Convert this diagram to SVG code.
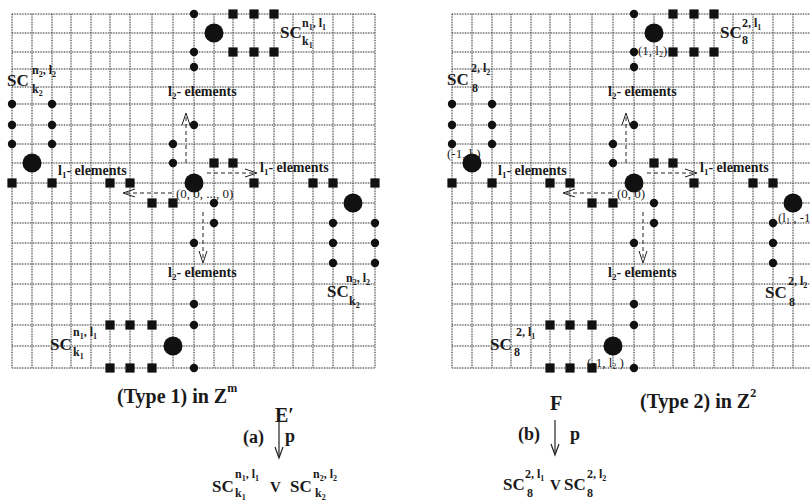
<svg xmlns="http://www.w3.org/2000/svg" xmlns:xlink="http://www.w3.org/1999/xlink" width="810" height="502" viewBox="0 0 810 502">
<defs>
<style>
.gl{fill:none;stroke:#c4c4c4;stroke-width:1}
.gd{fill:none;stroke:#333;stroke-width:1;stroke-dasharray:1 1.6}
.d{fill:#111}
.q{fill:#111}
.t{font-family:"Liberation Serif","Times New Roman",serif;font-weight:bold;fill:#1a1a1a}
.sc{font-size:17px}
.sp{font-size:12px}
.ix{font-size:8px}
.lab{font-size:14px}
.lx{font-size:9px}
.co{font-family:"Liberation Serif","Times New Roman",serif;font-size:13px;fill:#1a1a1a}
.big{font-size:20px}
.cap{font-size:18px}
.da{fill:none;stroke:#222;stroke-width:1;stroke-dasharray:4 3}
.ah{fill:none;stroke:#222;stroke-width:1}
.ar{fill:none;stroke:#222;stroke-width:1.2}
</style>
<path id="gridL" d="M12,14V368M32,14V368M52,14V368M71,14V368M91,14V368M110,14V368M130,14V368M152,14V368M173,14V368M194,14V368M214,14V368M233,14V368M254,14V368M274,14V368M293,14V368M313,14V368M333,14V368M353,14V368M375,14V368M12,14H375M12,33H375M12,52H375M12,69H375M12,87H375M12,104H375M12,125H375M12,144H375M12,163H375M12,183H375M12,203H375M12,223H375M12,243H375M12,264H375M12,284H375M12,304H375M12,325H375M12,346H375M12,368H375"/>
<path id="gridR" d="M452,14V368M472,14V368M492,14V368M511,14V368M531,14V368M550,14V368M570,14V368M592,14V368M613,14V368M634,14V368M654,14V368M673,14V368M694,14V368M714,14V368M733,14V368M753,14V368M773,14V368M793,14V368M452,14H810M452,33H810M452,52H810M452,69H810M452,87H810M452,104H810M452,125H810M452,144H810M452,163H810M452,183H810M452,203H810M452,223H810M452,243H810M452,264H810M452,284H810M452,304H810M452,325H810M452,346H810M452,368H810"/>
<circle id="dt" r="4.2" class="d"/>
<circle id="bg" r="9.5" class="d"/>
<rect id="sq" x="-4.6" y="-4.6" width="9.2" height="9.2" class="q"/>
</defs>
<rect width="810" height="502" fill="#fff"/>

<g id="grids">
<use xlink:href="#gridL" class="gl"/><use xlink:href="#gridL" class="gd"/>
<use xlink:href="#gridR" class="gl"/><use xlink:href="#gridR" class="gd"/>
</g>

<g id="connectors">
<path class="da" d="M186,163V115"/><path class="ah" d="M182,125L186,113L190,125"/>
<path class="da" d="M172,193H125"/><path class="ah" d="M135,189L123,193L135,197"/>
<path class="da" d="M207,173H255"/><path class="ah" d="M245,169L257,173L245,177"/>
<path class="da" d="M203,212V261"/><path class="ah" d="M199,251L203,263L207,251"/>
<path class="da" d="M626,163V115"/><path class="ah" d="M622,125L626,113L630,125"/>
<path class="da" d="M612,193H565"/><path class="ah" d="M575,189L563,193L575,197"/>
<path class="da" d="M647,173H695"/><path class="ah" d="M685,169L697,173L685,177"/>
<path class="da" d="M643,212V261"/><path class="ah" d="M639,251L643,263L647,251"/>
<path class="ar" d="M279,420V457"/><path class="ar" d="M275,447L279,458L283,447"/>
<path class="ar" d="M555,420V454"/><path class="ar" d="M551,444L555,455L559,444"/>
</g>

<!-- LEFT GRID (Type 1) -->
<g id="L-top">
<use xlink:href="#dt" x="194" y="14"/><use xlink:href="#sq" x="233" y="14"/><use xlink:href="#sq" x="254" y="14"/><use xlink:href="#sq" x="274" y="14"/>
<use xlink:href="#bg" x="214" y="33"/>
<use xlink:href="#dt" x="194" y="52"/><use xlink:href="#dt" x="194" y="67"/>
<use xlink:href="#sq" x="233" y="52"/><use xlink:href="#sq" x="254" y="52"/><use xlink:href="#sq" x="274" y="52"/>
<text class="t sc" x="280" y="38">SC</text>
<text class="t sp" x="302" y="27">n<tspan class="ix" dy="3">1</tspan><tspan dy="-3">, l</tspan><tspan class="ix" dy="3">1</tspan></text>
<text class="t sp" x="302" y="45">k<tspan class="ix" dy="3">1</tspan></text>
</g>
<g id="L-left">
<use xlink:href="#dt" x="12" y="104"/><use xlink:href="#dt" x="12" y="125"/><use xlink:href="#dt" x="12" y="144"/>
<use xlink:href="#dt" x="52" y="104"/><use xlink:href="#dt" x="52" y="125"/><use xlink:href="#dt" x="52" y="144"/>
<use xlink:href="#bg" x="32" y="163"/>
<use xlink:href="#sq" x="12" y="183"/><use xlink:href="#sq" x="52" y="183"/>
<text class="t sc" x="7" y="86">SC</text>
<text class="t sp" x="32" y="74">n<tspan class="ix" dy="3">2</tspan><tspan dy="-3">, l</tspan><tspan class="ix" dy="3">2</tspan></text>
<text class="t sp" x="32" y="93">k<tspan class="ix" dy="3">2</tspan></text>
</g>
<g id="L-center">
<use xlink:href="#dt" x="194" y="125"/><use xlink:href="#dt" x="173" y="144"/><use xlink:href="#dt" x="173" y="163"/>
<use xlink:href="#bg" x="194" y="183"/>
<use xlink:href="#sq" x="110" y="183"/><use xlink:href="#sq" x="130" y="183"/>
<use xlink:href="#sq" x="152" y="203"/><use xlink:href="#sq" x="173" y="203"/>
<use xlink:href="#sq" x="214" y="163"/><use xlink:href="#sq" x="233" y="163"/>
<use xlink:href="#sq" x="254" y="183"/>
<use xlink:href="#dt" x="214" y="203"/><use xlink:href="#dt" x="214" y="223"/><use xlink:href="#dt" x="194" y="243"/>
<use xlink:href="#dt" x="194" y="304"/><use xlink:href="#dt" x="194" y="325"/><use xlink:href="#dt" x="194" y="368"/>
<text class="co" x="176" y="198">(0, 0, ..., 0)</text>
<text class="t lab" x="168" y="96">l<tspan class="lx" dy="3">2</tspan><tspan dy="-3">- elements</tspan></text>
<text class="t lab" x="58" y="175">l<tspan class="lx" dy="3">1</tspan><tspan dy="-3">- elements</tspan></text>
<text class="t lab" x="260" y="172">l<tspan class="lx" dy="3">1</tspan><tspan dy="-3">- elements</tspan></text>
<text class="t lab" x="168" y="277">l<tspan class="lx" dy="3">2</tspan><tspan dy="-3">- elements</tspan></text>
</g>
<g id="L-right">
<use xlink:href="#sq" x="313" y="183"/><use xlink:href="#sq" x="333" y="183"/><use xlink:href="#sq" x="375" y="183"/>
<use xlink:href="#bg" x="353" y="203"/>
<use xlink:href="#dt" x="333" y="223"/><use xlink:href="#dt" x="333" y="243"/><use xlink:href="#dt" x="333" y="263"/>
<use xlink:href="#dt" x="375" y="223"/><use xlink:href="#dt" x="375" y="243"/><use xlink:href="#dt" x="375" y="263"/>
<text class="t sc" x="327" y="297">SC</text>
<text class="t sp" x="346" y="282">n<tspan class="ix" dy="3">2</tspan><tspan dy="-3">, l</tspan><tspan class="ix" dy="3">2</tspan></text>
<text class="t sp" x="349" y="305">k<tspan class="ix" dy="3">2</tspan></text>
</g>
<g id="L-bottom">
<use xlink:href="#sq" x="110" y="325"/><use xlink:href="#sq" x="130" y="325"/><use xlink:href="#sq" x="152" y="325"/>
<use xlink:href="#bg" x="173" y="346"/>
<use xlink:href="#sq" x="110" y="368"/><use xlink:href="#sq" x="130" y="368"/><use xlink:href="#sq" x="152" y="368"/>
<text class="t sc" x="50" y="350">SC</text>
<text class="t sp" x="73" y="336">n<tspan class="ix" dy="3">1</tspan><tspan dy="-3">, l</tspan><tspan class="ix" dy="3">1</tspan></text>
<text class="t sp" x="73" y="356">k<tspan class="ix" dy="3">1</tspan></text>
</g>

<!-- RIGHT GRID (Type 2) -->
<g id="R-top">
<use xlink:href="#dt" x="634" y="14"/><use xlink:href="#sq" x="673" y="14"/><use xlink:href="#sq" x="694" y="14"/><use xlink:href="#sq" x="714" y="14"/>
<use xlink:href="#bg" x="654" y="33"/>
<use xlink:href="#dt" x="634" y="52"/><use xlink:href="#dt" x="634" y="67"/>
<use xlink:href="#sq" x="673" y="52"/><use xlink:href="#sq" x="694" y="52"/><use xlink:href="#sq" x="714" y="52"/>
<text class="co" x="638" y="55">(1, l<tspan font-size="8" dy="2">2</tspan><tspan dy="-2">)</tspan></text>
<text class="t sc" x="720" y="38">SC</text>
<text class="t sp" x="742" y="27">2, l<tspan class="ix" dy="3">1</tspan></text>
<text class="t sp" x="742" y="44">8</text>
</g>
<g id="R-left">
<use xlink:href="#dt" x="452" y="104"/><use xlink:href="#dt" x="452" y="125"/><use xlink:href="#dt" x="452" y="144"/>
<use xlink:href="#dt" x="492" y="104"/><use xlink:href="#dt" x="492" y="125"/><use xlink:href="#dt" x="492" y="144"/>
<use xlink:href="#bg" x="472" y="163"/>
<use xlink:href="#sq" x="452" y="183"/><use xlink:href="#sq" x="492" y="183"/>
<text class="co" x="447" y="158">(-1, l<tspan font-size="8" dy="2">1</tspan><tspan dy="-2">)</tspan></text>
<text class="t sc" x="447" y="85">SC</text>
<text class="t sp" x="471" y="72">2, l<tspan class="ix" dy="3">2</tspan></text>
<text class="t sp" x="472" y="92">8</text>
</g>
<g id="R-center">
<use xlink:href="#dt" x="634" y="125"/><use xlink:href="#dt" x="613" y="144"/><use xlink:href="#dt" x="613" y="163"/>
<use xlink:href="#bg" x="634" y="183"/>
<use xlink:href="#sq" x="550" y="183"/><use xlink:href="#sq" x="570" y="183"/>
<use xlink:href="#sq" x="592" y="203"/><use xlink:href="#sq" x="613" y="203"/>
<use xlink:href="#sq" x="654" y="163"/><use xlink:href="#sq" x="673" y="163"/>
<use xlink:href="#sq" x="694" y="183"/>
<use xlink:href="#dt" x="654" y="203"/><use xlink:href="#dt" x="654" y="223"/><use xlink:href="#dt" x="634" y="243"/>
<use xlink:href="#dt" x="634" y="304"/><use xlink:href="#dt" x="634" y="325"/><use xlink:href="#dt" x="634" y="368"/>
<text class="co" x="617" y="198">(0, 0)</text>
<text class="t lab" x="608" y="96">l<tspan class="lx" dy="3">2</tspan><tspan dy="-3">- elements</tspan></text>
<text class="t lab" x="498" y="175">l<tspan class="lx" dy="3">1</tspan><tspan dy="-3">- elements</tspan></text>
<text class="t lab" x="700" y="172">l<tspan class="lx" dy="3">1</tspan><tspan dy="-3">- elements</tspan></text>
<text class="t lab" x="608" y="277">l<tspan class="lx" dy="3">2</tspan><tspan dy="-3">- elements</tspan></text>
</g>
<g id="R-right">
<use xlink:href="#sq" x="753" y="183"/><use xlink:href="#sq" x="773" y="183"/>
<use xlink:href="#bg" x="793" y="203"/>
<use xlink:href="#dt" x="773" y="223"/><use xlink:href="#dt" x="773" y="243"/><use xlink:href="#dt" x="773" y="263"/>
<text class="co" x="778" y="222">(l<tspan font-size="8" dy="2">1</tspan><tspan dy="-2"> , -1)</tspan></text>
<text class="t sc" x="765" y="298">SC</text>
<text class="t sp" x="788" y="285">2, l<tspan class="ix" dy="3">2</tspan></text>
<text class="t sp" x="789" y="306">8</text>
</g>
<g id="R-bottom">
<use xlink:href="#sq" x="550" y="325"/><use xlink:href="#sq" x="570" y="325"/><use xlink:href="#sq" x="592" y="325"/>
<use xlink:href="#bg" x="613" y="346"/>
<use xlink:href="#sq" x="550" y="368"/><use xlink:href="#sq" x="570" y="368"/><use xlink:href="#sq" x="592" y="368"/>
<text class="co" x="587" y="367">(-1, l<tspan font-size="8" dy="2">2</tspan><tspan dy="-2"> )</tspan></text>
<text class="t sc" x="490" y="350">SC</text>
<text class="t sp" x="516" y="336">2, l<tspan class="ix" dy="3">1</tspan></text>
<text class="t sp" x="514" y="356">8</text>
</g>

<!-- captions -->
<g id="cap-a">
<text class="t big" x="117" y="403">(Type 1) in Z<tspan class="sp" dy="-11">m</tspan></text>
<text class="t big" x="275" y="422">E′</text>
<text class="t cap" x="243" y="443">(a)</text>
<text class="t cap" x="285" y="442">p</text>
<text class="t sc" x="212" y="492">SC</text>
<text class="t sp" x="235" y="478">n<tspan class="ix" dy="3">1</tspan><tspan dy="-3">, l</tspan><tspan class="ix" dy="3">1</tspan></text>
<text class="t sp" x="235" y="497">k<tspan class="ix" dy="3">1</tspan></text>
<text class="t" x="270" y="492" font-size="15">V</text>
<text class="t sc" x="290" y="492">SC</text>
<text class="t sp" x="313" y="478">n<tspan class="ix" dy="3">2</tspan><tspan dy="-3">, l</tspan><tspan class="ix" dy="3">2</tspan></text>
<text class="t sp" x="315" y="497">k<tspan class="ix" dy="3">2</tspan></text>
</g>
<g id="cap-b">
<text class="t big" x="550" y="410">F</text>
<text class="t big" x="640" y="408">(Type 2) in Z<tspan class="sp" dy="-11">2</tspan></text>
<text class="t cap" x="518" y="440">(b)</text>
<text class="t cap" x="570" y="440">p</text>
<text class="t sc" x="503" y="490">SC</text>
<text class="t sp" x="525" y="478">2, l<tspan class="ix" dy="3">1</tspan></text>
<text class="t sp" x="527" y="497">8</text>
<text class="t" x="550" y="490" font-size="15">V</text>
<text class="t sc" x="564" y="490">SC</text>
<text class="t sp" x="587" y="478">2, l<tspan class="ix" dy="3">2</tspan></text>
<text class="t sp" x="587" y="497">8</text>
</g>
</svg>
